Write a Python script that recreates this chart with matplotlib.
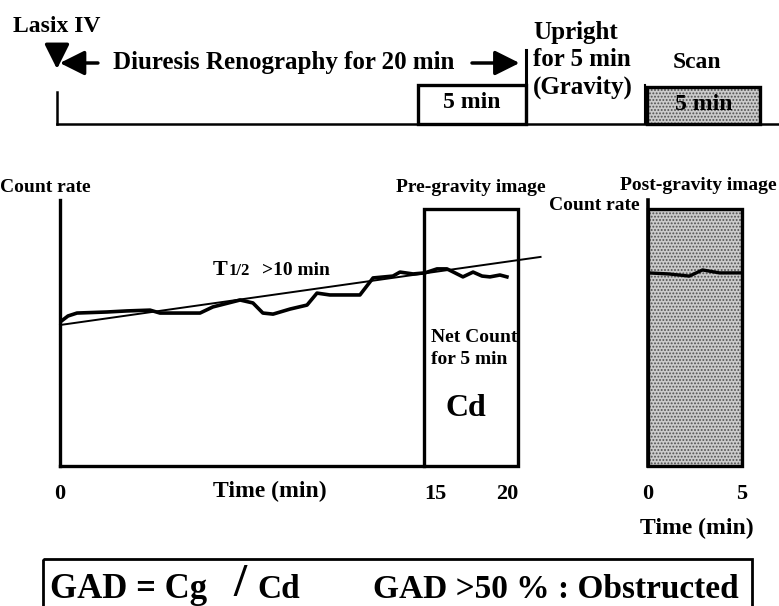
import numpy as np
import matplotlib
matplotlib.use("Agg")
import matplotlib.pyplot as plt
from matplotlib.patches import Rectangle

plt.rcParams["font.family"] = ["Liberation Serif", "DejaVu Serif"]
plt.rcParams["font.weight"] = "bold"
plt.rcParams["hatch.color"] = "#505050"
plt.rcParams["hatch.linewidth"] = 0.9

# protocol phases (minutes): renography 0-20, last 5 min window, upright 20-25, scan 25-30
phase_edges = [0, 15, 20, 25, 30]

# diuresis renogram (minutes, count rate in arbitrary units)
reno_time = [0.0, 0.33, 0.70, 1.94, 2.76, 3.71, 4.12, 5.77, 6.30, 7.42, 7.95, 8.36,
             8.78, 9.48, 10.18, 10.59, 11.12, 12.36, 12.90, 13.72, 14.01, 14.55,
             15.05, 15.69, 16.22, 16.65, 17.07, 17.61, 18.09, 18.51, 19.04, 19.41]
reno_count = [54.1, 56.4, 57.5, 57.9, 58.3, 58.6, 57.5, 57.5, 59.8, 62.4, 61.3, 57.5,
              57.1, 59.0, 60.5, 65.0, 64.3, 64.3, 70.7, 71.4, 72.9, 72.2,
              72.6, 74.1, 74.1, 72.6, 71.1, 72.9, 71.4, 71.1, 71.8, 71.1]

# fitted trend (T1/2 > 10 min)
trend_time = [0.0, 21.2]
trend_count = [53.0, 78.6]

# post-gravity 5 min acquisition
post_time = [0.0, 1.1, 2.2, 2.9, 3.8, 5.0]
post_count = [72.6, 72.2, 71.4, 73.7, 72.6, 72.6]

main_ticks = [0, 15, 20]
main_ticklabels = ["0", "15", "20"]
post_ticks = [0, 5]
post_ticklabels = ["0", "5"]

W, H = 779, 606
fig = plt.figure(figsize=(W / 100, H / 100), dpi=100)


def piecewise(ax, mins, px):
    # schematic time axis: piecewise linear minutes -> pixels
    fwd = lambda x: np.interp(x, mins, px)
    inv = lambda p: np.interp(p, px, mins)
    ax.set_xscale("function", functions=(fwd, inv))
    return fwd, inv


def stipple(ax, xy, w, h, **kw):
    ax.add_patch(Rectangle(xy, w, h, facecolor="#cbcbcb", hatch=".....",
                           edgecolor="#505050", lw=0, **kw))
    ax.add_patch(Rectangle(xy, w, h, fill=False, edgecolor="black", lw=2.4, **kw))


# background axes in pixels for free text
bg = fig.add_axes([0, 0, 1, 1])
bg.set_xlim(0, W)
bg.set_ylim(H, 0)
bg.axis("off")

# ---- top timeline ----
tl = fig.add_axes([0, 0, 1, 1])
tl.patch.set_alpha(0)
fwd_tl, inv_tl = piecewise(tl, [-100, 0, 15, 20, 25, 30, 100],
                           [57 - 2340, 57, 418, 526, 647, 760, 760 + 1582])
tl.set_xlim(inv_tl(0), inv_tl(W))
tl.set_ylim(H, 0)
tl.axis("off")

t0, t15, t20, t25, t30 = phase_edges
tl.plot([t0, inv_tl(W)], [124, 124], color="black", lw=1.8)
tl.plot([t0, t0], [92, 124], color="black", lw=1.8)
tl.add_patch(Rectangle((t15, 85), t20 - t15, 39, fill=False, edgecolor="black", lw=2.4))
tl.plot([t20, t20], [50, 124], color="black", lw=2.2)
stipple(tl, (t25, 87), t30 - t25, 37)
tl.plot([t25 - 0.08, t25 - 0.08], [85, 124], color="black", lw=1.5)
tl.text((t15 + t20) / 2, 103, "5 min", ha="center", va="center", fontsize=17)
tl.text((t25 + t30) / 2, 104, "5 min", ha="center", va="center", fontsize=17)

arrow = dict(arrowstyle="-|>,head_length=0.6,head_width=0.3", lw=2.5,
             color="black", shrinkA=0, shrinkB=0, mutation_scale=25)
tl.annotate("", xy=(t0, 69), xytext=(t0, 45), arrowprops=arrow)
tl.annotate("", xy=(0.12, 63), xytext=(1.7, 63), arrowprops=arrow)
tl.annotate("", xy=(19.7, 63), xytext=(17.5, 63), arrowprops=arrow)

bg.text(13, 26, "Lasix IV", ha="left", va="center", fontsize=17)
bg.text(113, 63, "Diuresis Renography for 20 min", ha="left", va="center", fontsize=18)
bg.text(533, 33, "Upright", ha="left", va="center", fontsize=18)
bg.text(533, 60, "for 5 min", ha="left", va="center", fontsize=18)
bg.text(533, 87, "(Gravity)", ha="left", va="center", fontsize=18)
bg.text(697, 63, "Scan", ha="center", va="center", fontsize=17)

# ---- main renogram ----
y_top, y_bot = 200, 466
main = fig.add_axes([60 / W, (H - y_bot) / H, (560 - 60) / W, (y_bot - y_top) / H])
main.patch.set_alpha(0)
fwd_m, inv_m = piecewise(main, [-100, 0, 15, 20, 100],
                         [60 - 2427, 60, 424, 518, 518 + 1504])
main.set_xlim(0, inv_m(560))
main.set_ylim(0, 100)
for s in ["top", "right"]:
    main.spines[s].set_visible(False)
main.spines["left"].set_linewidth(2.4)
main.spines["bottom"].set_linewidth(2.4)
main.spines["bottom"].set_bounds(0, 15)
main.add_patch(Rectangle((15, 0), 5, 0.965, transform=main.get_xaxis_transform(),
                         fill=False, edgecolor="black", lw=2.4, clip_on=False))
main.plot(trend_time, trend_count, color="black", lw=1.4, clip_on=False)
main.plot(reno_time, reno_count, color="black", lw=2.6, solid_joinstyle="round")
main.set_yticks([])
main.set_xticks(main_ticks)
main.set_xticklabels(main_ticklabels, fontsize=16)
main.tick_params(axis="x", length=0, pad=13)
for lab, ha in zip(main.get_xticklabels(), ["center", "left", "right"]):
    lab.set_ha(ha)

bg.text(0, 188, "Count rate", ha="left", va="center", fontsize=14)
bg.text(471, 188, "Pre-gravity image", ha="center", va="center", fontsize=14)
bg.text(213, 275, "T", ha="left", va="baseline", fontsize=16)
bg.text(229, 275, "1/2", ha="left", va="baseline", fontsize=12)
bg.text(262, 275, ">10 min", ha="left", va="baseline", fontsize=14)
bg.text(431, 337, "Net Count", ha="left", va="center", fontsize=14)
bg.text(431, 359, "for 5 min", ha="left", va="center", fontsize=14)
bg.text(466, 409, "Cd", ha="center", va="center", fontsize=23)
bg.text(270, 491, "Time (min)", ha="center", va="center", fontsize=17)

# ---- post-gravity image ----
post = fig.add_axes([648 / W, (H - y_bot) / H, (742 - 648) / W, (y_bot - y_top) / H])
post.patch.set_alpha(0)
post.set_xlim(0, 5)
post.set_ylim(0, 100)
for s in ["top", "right", "bottom"]:
    post.spines[s].set_visible(False)
post.spines["left"].set_linewidth(2.6)
stipple(post, (0, 0), 5, 0.965, transform=post.get_xaxis_transform(), clip_on=False)
post.plot(post_time, post_count, color="black", lw=2.4, solid_joinstyle="round")
post.set_yticks([])
post.set_xticks(post_ticks)
post.set_xticklabels(post_ticklabels, fontsize=16)
post.tick_params(axis="x", length=0, pad=13)

bg.text(777, 186, "Post-gravity image", ha="right", va="center", fontsize=14)
bg.text(640, 205, "Count rate", ha="right", va="center", fontsize=14)
bg.text(650, 335, "Net Count", ha="left", va="center", fontsize=14)
bg.text(650, 356, "for 5 min", ha="left", va="center", fontsize=14)
bg.text(686, 410, "Cg", ha="center", va="center", fontsize=23)
bg.text(697, 528, "Time (min)", ha="center", va="center", fontsize=17)

# ---- GAD formula box ----
bg.add_patch(Rectangle((43, 559), 752 - 43, 70, fill=False, edgecolor="black", lw=2))
bg.text(50, 598, "GAD = Cg", ha="left", va="baseline", fontsize=25)
bg.text(240, 596, "/", ha="center", va="baseline", fontsize=34)
bg.text(257, 598, "Cd", ha="left", va="baseline", fontsize=24)
bg.text(373, 598, "GAD >50 % : Obstructed", ha="left", va="baseline", fontsize=24)

fig.savefig("out.png", dpi=100)
